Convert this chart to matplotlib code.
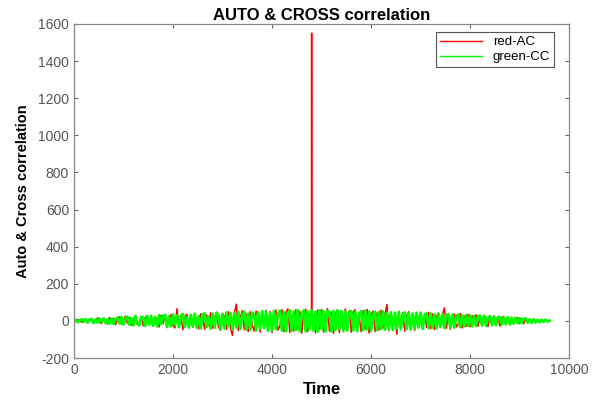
import numpy as np
import matplotlib.pyplot as plt

# values, one every 40 lag steps (0 .. 9600)
lag = np.arange(0, 9601, 40)

red_ac = [
    2, -5, 7, 1, -8, 9, -3, -10, 12, 4, -13, 8, 15, -6, -14, 11, 3, -16, 18, -9,
    14, -20, 6, 22, -17, -4, 25, -12, 19, -24, 9, 28, -21, -7, 23, -27, 16, 30, -19, 11,
    -28, 24, 8, -33, 31, -15, 27, -36, 12, 34, -25, -38, 65, -20, 29, -48, 17, 36, -30, 22,
    -35, 40, -12, -43, 38, 21, -46, 33, -28, 44, -39, 15, 47, -34, -50, 41, 26, -45, 49, -37,
    -78, 42, 90, -52, 18, 55, -47, 36, -58, 49, -22, -55, 53, 31, -60, 46, -41, 57, -33, 50,
    -62, 38, 58, -50, -27, 61, -57, 44, 65, -63, 29, -55, 60, -45, 52, -66, 40, 63, -58, 35,
    1550, 30, -64, 58, -42, 62, -60, 25, 66, -55, 48, -67, 37, 59, -62, 45, -50, 64, -38, 55,
    -61, 47, 60, -53, 20, -58, 56, -44, 62, -65, 35, 52, -57, 43, -49, 58, -40, 33, 88, -54,
    48, -46, 30, -72, 52, -38, 45, -55, 27, 50, -43, 41, -51, 36, -28, 47, -44, 39, -35, 46,
    -42, 38, -47, 25, 43, -36, 31, 70, -40, 34, -45, 29, 37, -33, -18, 40, -38, 26, -30, 35,
    -32, 28, -12, 33, -29, 21, -26, 30, 14, -31, 25, -22, 27, -19, 24, -28, 18, 23, -21, 16,
    -20, 19, -15, 8, 17, -14, 13, -16, 11, -10, 12, -8, 9, -11, 7, -6, 8, -5, 4, -3,
    2,
]

# the zero-lag peak is a single sample: its two neighbours at lag 4799 / 4801
peak_side_lag = [4799, 4801]
peak_side_val = [12, 18]

green_cc = [
    -3, 6, -7, 4, 8, -6, 10, -9, 5, 11, -12, 7, -10, 13, -5, 14, -13, 9, -15, 12,
    -16, 10, 18, -14, 21, -19, 8, 23, -20, 15, -24, 26, -11, -25, 22, 17, -27, 24, -21, 28,
    -26, 20, -30, 31, -18, 27, 33, -32, 24, -29, 35, -22, 30, -34, 28, 37, -31, 19, -36, 33,
    -30, 38, -36, 27, -40, 35, 41, -33, 22, -42, 39, -37, 44, 30, -45, 36, -41, 46, -28, 42,
    -47, 43, -35, 48, -44, 29, 50, -46, 40, -49, 45, 34, -51, 47, -43, 52, -38, 49, -53, 41,
    -50, 54, -45, 36, 55, -52, 48, -56, 42, 57, -53, 50, -48, 58, -55, 39, 56, -57, 51, -46,
    58, -54, 49, -58, 56, -44, 52, -57, 55, 47, -56, 53, -50, 57, -42, 54, -55, 50, -52, 45,
    53, -51, 48, -55, 40, 52, -49, 54, -46, 50, -53, 35, 49, -50, 47, -44, 51, -48, 42, -47,
    46, -49, 44, -41, 48, -45, 37, 46, -43, 42, -47, 39, -40, 44, -36, 43, -42, 33, 41, -39,
    40, -37, 35, -40, 38, -32, 36, -38, 30, 37, -35, 33, -36, 28, 34, -33, 31, -30, 32, -27,
    30, -29, 26, -28, 24, 29, -25, 27, -26, 20, 25, -24, 22, -23, 18, 21, -20, 19, -17, 20,
    -18, 16, -15, 17, -13, 14, -12, 11, 13, -10, 9, -11, 8, -7, 6, -8, 5, -4, 6, -3,
    1,
]

# red series with the two samples next to the peak slotted in
ac_lag = np.insert(lag, [120, 121], peak_side_lag)
ac_val = np.insert(np.array(red_ac, dtype=float), [120, 121], peak_side_val)

plt.rcParams['font.family'] = ['Liberation Sans', 'DejaVu Sans']
plt.rcParams['axes.unicode_minus'] = False

fig = plt.figure(figsize=(5.96, 4.05), dpi=100)
ax = fig.add_axes([0.124, 0.116, 0.831, 0.825])

ax.plot(ac_lag, ac_val, color='#ff0000', linewidth=1.1, label='red-AC')
ax.plot(lag, green_cc, color='#00ff00', linewidth=2.0, label='green-CC')

ax.set_xlim(0, 10000)
ax.set_ylim(-200, 1600)
ax.set_yticks(range(-200, 1601, 200))
ax.set_xticks(range(0, 10001, 2000))

ax.tick_params(direction='in', length=3, color='#666666', labelcolor='#555555',
               labelsize=10, top=True, right=True)
for sp in ax.spines.values():
    sp.set_color('#888888')
    sp.set_linewidth(0.9)

ax.set_title('AUTO & CROSS correlation', fontsize=12, fontweight='bold', pad=3)
ax.set_xlabel('Time', fontsize=12, fontweight='bold', labelpad=4)
ax.set_ylabel('Auto & Cross correlation', fontsize=10.5, fontweight='bold', labelpad=6)

leg = ax.legend(loc='upper right', fontsize=9.5, fancybox=False, framealpha=1,
                handlelength=3.2, borderpad=0.3, labelspacing=0.2,
                bbox_to_anchor=(0.983, 0.995))
leg.get_frame().set_edgecolor('#555555')
leg.get_frame().set_linewidth(0.8)
for ln in leg.get_lines():
    ln.set_linewidth(1.0)

fig.savefig('out.png', dpi=100)
